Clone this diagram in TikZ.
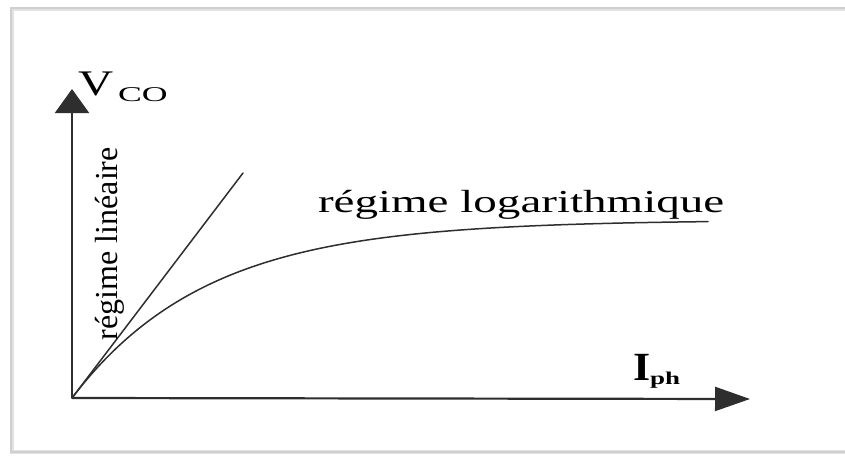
\documentclass[tikz,border=0pt]{standalone}
\usepackage{fontspec}
\usepackage{graphicx}
\setmainfont{Liberation Serif}
\usetikzlibrary{arrows.meta}

\definecolor{ink}{HTML}{2E2E2E}
\definecolor{framegray}{HTML}{CFCFCF}

\tikzset{
  axisline/.style={draw=ink, line width=2.2pt},
  yaxistip/.style={-{Triangle[length=24pt,width=34pt]}},
  xaxistip/.style={-{Triangle[length=35pt,width=24pt]}},
  trace/.style={draw=ink, line width=1.5pt, line cap=round},
  lbl/.style={inner sep=0pt, outer sep=0pt, text=black},
}

\newcommand{\hstretch}[2]{\scalebox{#1}[1]{#2}}

\begin{document}
\begin{tikzpicture}[x=1pt, y=-1pt]
  \useasboundingbox (0,0) rectangle (845,455);
  \fill[white] (0,0) rectangle (845,455);

  % light panel frame, open on the right
  \draw[framegray!60, line width=4pt] (845,9) -- (12,9) -- (12,452) -- (845,452);
  \draw[framegray, line width=1.6pt] (845,8) -- (11,8) -- (11,452) -- (845,452);

  % axes
  \coordinate (O) at (72,398);
  \coordinate (ytop) at (72,89);
  \coordinate (xend) at (750,399);
  \draw[axisline, yaxistip] (O) -- (ytop);
  \draw[axisline, xaxistip] (O) -- (xend);

  % linear asymptote
  \coordinate (linend) at (243,173);
  \draw[trace] (O) -- (linend);

  % saturating (logarithmic) response
  \draw[trace] plot[domain=0:636, samples=160, smooth]
    ({72+\x}, {398-178*(1-exp(-\x/135))});

  % axis labels
  \node[lbl, anchor=base west] (vco) at (78,95)
    {\hstretch{1.35}{\fontsize{36}{36}\selectfont V}\hspace{5pt}\raisebox{-6pt}{\hstretch{1.7}{\fontsize{21}{21}\selectfont CO}}};
  \node[lbl, anchor=base west] (iph) at (633,380)
    {\hstretch{1.1}{\fontsize{40}{40}\selectfont\bfseries I}\raisebox{-4pt}{\hstretch{1.5}{\fontsize{18}{18}\selectfont\bfseries ph}}};

  % regime labels
  \node[lbl, anchor=base west] (logreg) at (318,212)
    {\hstretch{1.47}{\fontsize{32}{32}\selectfont régime logarithmique}};
  \node[lbl, anchor=base west, rotate=90] (linreg) at (117,340)
    {\fontsize{32}{32}\selectfont régime linéaire};
\end{tikzpicture}
\end{document}
